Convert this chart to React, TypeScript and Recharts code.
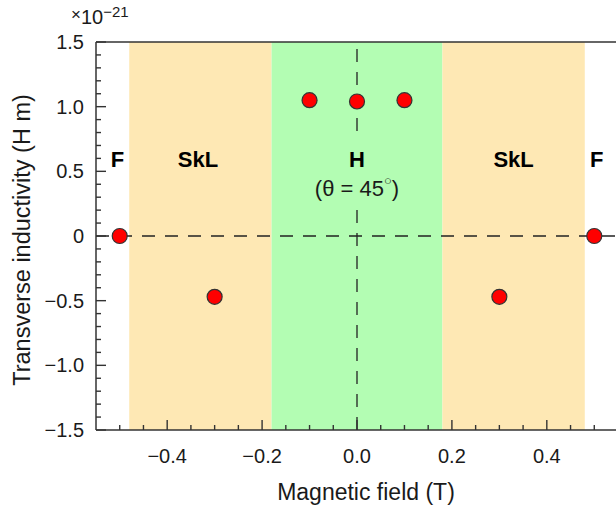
import React from 'react';
import {
  ScatterChart,
  Scatter,
  XAxis,
  YAxis,
  ReferenceArea,
  ReferenceLine,
  ReferenceDot,
} from 'recharts';

// ---- data ----
const fieldT = [-0.5, -0.3, -0.1, 0.0, 0.1, 0.3, 0.5];
const inductivity = [0.0, -0.47, 1.05, 1.04, 1.05, -0.47, 0.0];

const xTicks = [
  -0.5, -0.45, -0.4, -0.35, -0.3, -0.25, -0.2, -0.15, -0.1, -0.05, 0.0,
  0.05, 0.1, 0.15, 0.2, 0.25, 0.3, 0.35, 0.4, 0.45, 0.5,
];
const xMajorTicks = [-0.4, -0.2, 0.0, 0.2, 0.4];
const xMajorLabels = ['\u22120.4', '\u22120.2', '0.0', '0.2', '0.4'];

const yTicks = [
  -1.5, -1.4, -1.3, -1.2, -1.1, -1.0, -0.9, -0.8, -0.7, -0.6, -0.5, -0.4,
  -0.3, -0.2, -0.1, 0.0, 0.1, 0.2, 0.3, 0.4, 0.5, 0.6, 0.7, 0.8, 0.9, 1.0,
  1.1, 1.2, 1.3, 1.4, 1.5,
];
const yMajorTicks = [-1.5, -1.0, -0.5, 0.0, 0.5, 1.0, 1.5];
const yMajorLabels = ['\u22121.5', '\u22121.0', '\u22120.5', '0', '0.5', '1.0', '1.5'];

const bandStart = [-0.48, -0.18, 0.18];
const bandEnd = [-0.18, 0.18, 0.48];
const bandPhase = ['SkL', 'H', 'SkL'];

const phaseLabels = ['F', 'SkL', 'H', 'SkL', 'F'];
const phaseLabelX = [-0.505, -0.335, 0.0, 0.33, 0.505];
const phaseLabelY = 0.595;
const angleNote = '(\u03b8 = 45';

// ---- styles ----
const FONT = '"Liberation Sans", Arial, Helvetica, sans-serif';
const AXIS = '#333333';
const TEXT = '#1a1a1a';
const ORANGE = '#FEE8B4';
const GREEN = '#B3FDB3';

const scatterData = fieldT.map((x, i) => ({ x, y: inductivity[i] }));

const near = (a: number, b: number) => Math.abs(a - b) < 1e-6;

const XTick = (props: any) => {
  const { x, y, payload } = props;
  const v = payload.value as number;
  const idx = xMajorTicks.findIndex((m) => near(m, v));
  const major = idx >= 0;
  return (
    <g>
      <path d={`M${x},${y}L${x},${y - (major ? 10 : 5)}`} stroke={AXIS} strokeWidth={1.4} fill="none" />
      {major && (
        <text x={x} y={y + 26} textAnchor="middle" dominantBaseline="central" fontSize={20} fontFamily={FONT} fill={TEXT}>
          {xMajorLabels[idx]}
        </text>
      )}
    </g>
  );
};

const YTick = (props: any) => {
  const { x, y, payload } = props;
  const v = payload.value as number;
  const idx = yMajorTicks.findIndex((m) => near(m, v));
  const major = idx >= 0;
  return (
    <g>
      <path d={`M${x},${y}L${x + (major ? 10 : 5)},${y}`} stroke={AXIS} strokeWidth={1.4} fill="none" />
      {major && (
        <text x={x - 12} y={y} textAnchor="end" dominantBaseline="central" fontSize={20} fontFamily={FONT} fill={TEXT}>
          {yMajorLabels[idx]}
        </text>
      )}
    </g>
  );
};

const PhaseText = (text: string, withNote: boolean) => (props: any) => {
  const { cx, cy } = props;
  const noteY = cy + 29;
  return (
    <g>
      {withNote && <rect x={cx - 14} y={cy - 20} width={28} height={70} fill={GREEN} />}
      <text x={cx} y={cy} textAnchor="middle" dominantBaseline="central" fontSize={22} fontWeight="bold" fontFamily={FONT} fill="#000">
        {text}
      </text>
      {withNote && (
        <text x={cx} y={noteY} textAnchor="middle" dominantBaseline="central" fontSize={22} fontFamily={FONT} fill={TEXT}>
          {angleNote}
          <tspan fontSize={13} dy={-8}>{'\u25cb'}</tspan>
          <tspan dy={8}>)</tspan>
        </text>
      )}
    </g>
  );
};

const YTitle = () => {
  const cx = 22;
  const cy = 240;
  return (
    <text x={cx} y={cy} transform={`rotate(-90 ${cx} ${cy})`} textAnchor="middle" dominantBaseline="central" fontSize={23.5} fontFamily={FONT} fill={TEXT}>
      Transverse inductivity (H m)
    </text>
  );
};

const XTitle = () => (
  <text x={366} y={492} textAnchor="middle" dominantBaseline="central" fontSize={23} fontFamily={FONT} fill={TEXT}>
    Magnetic field (T)
  </text>
);

export default function App() {
  return (
    <div style={{ position: 'fixed', left: 0, top: 0, width: 616, height: 507, overflow: 'hidden', background: '#fff' }}>
      <div style={{ position: 'absolute', left: 71, top: 0, fontFamily: FONT, color: TEXT, whiteSpace: 'nowrap', zIndex: 2 }}>
        <span style={{ fontSize: 17, position: 'relative', top: 2 }}>{'\u00d7'}</span>
        <span style={{ fontSize: 20, position: 'relative', top: 6 }}>10</span>
        <span style={{ fontSize: 15, position: 'relative', top: -1 }}>{'\u221221'}</span>
      </div>
      <ScatterChart width={618} height={507} margin={{ top: 42, right: 0, bottom: 0, left: 0 }}>
        {bandStart.map((s, i) => (
          <ReferenceArea
            key={`band-${i}`}
            x1={s}
            x2={bandEnd[i]}
            y1={-1.5}
            y2={1.5}
            fill={bandPhase[i] === 'H' ? GREEN : ORANGE}
            fillOpacity={1}
            stroke="none"
            ifOverflow="visible"
          />
        ))}
        <XAxis
          type="number"
          dataKey="x"
          domain={[-0.55, 0.55]}
          ticks={xTicks}
          interval={0}
          height={77}
          tickSize={0}
          tickMargin={0}
          tick={<XTick />}
          axisLine={{ stroke: AXIS, strokeWidth: 1.5 }}
          tickLine={false}
          allowDataOverflow
          label={<XTitle />}
        />
        <YAxis
          type="number"
          dataKey="y"
          domain={[-1.5, 1.5]}
          ticks={yTicks}
          interval={0}
          width={96}
          tickSize={0}
          tickMargin={0}
          tick={<YTick />}
          axisLine={{ stroke: AXIS, strokeWidth: 1.5 }}
          tickLine={false}
          allowDataOverflow
          label={<YTitle />}
        />
        <ReferenceLine y={1.5} stroke={AXIS} strokeWidth={1.5} ifOverflow="visible" />
        <ReferenceLine y={0} stroke="#222" strokeWidth={1.3} strokeDasharray="13 10" />
        <ReferenceLine x={0} stroke="#222" strokeWidth={1.3} strokeDasharray="13 10" />
        {phaseLabels.map((t, i) => (
          <ReferenceDot
            key={`lab-${i}`}
            x={phaseLabelX[i]}
            y={phaseLabelY}
            r={0}
            ifOverflow="visible"
            shape={PhaseText(t, t === 'H')}
          />
        ))}
        <Scatter
          data={scatterData}
          isAnimationActive={false}
          shape={(p: any) => <circle cx={p.cx} cy={p.cy} r={7.5} fill="#FF0000" stroke="#333" strokeWidth={1.2} />}
        />
      </ScatterChart>
    </div>
  );
}
